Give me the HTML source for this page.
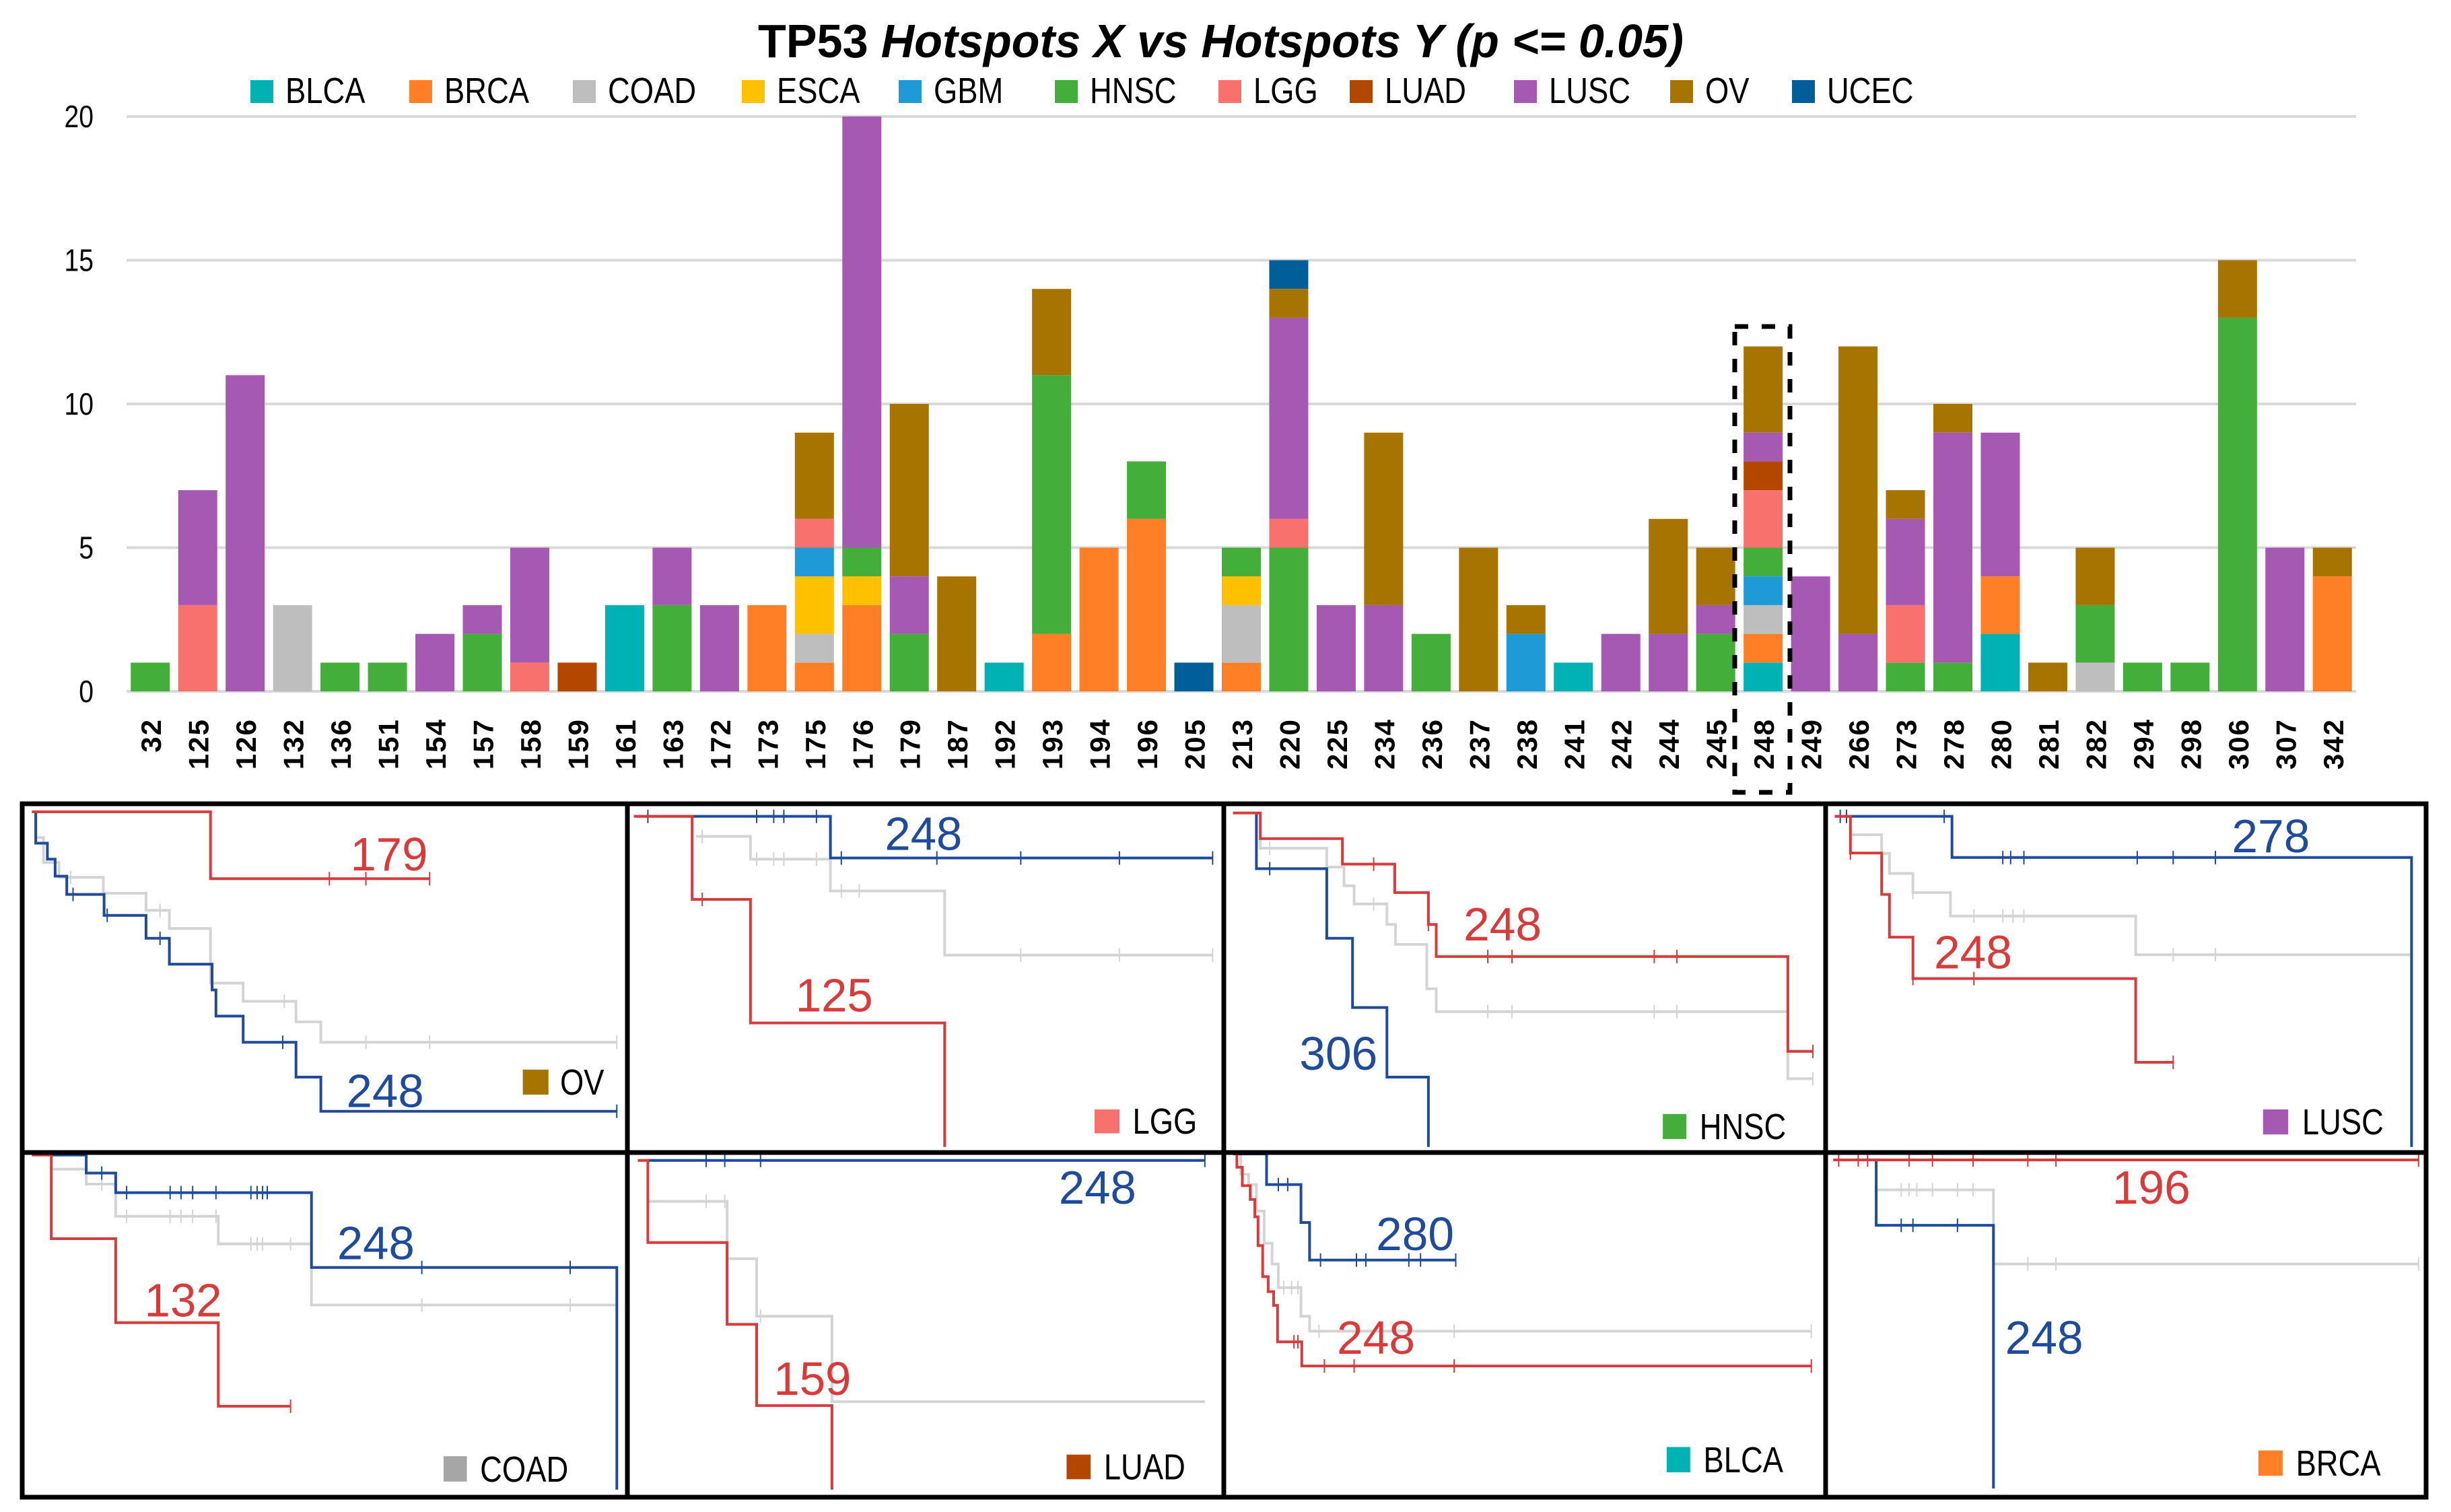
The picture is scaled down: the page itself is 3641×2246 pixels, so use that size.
<!DOCTYPE html>
<html><head><meta charset="utf-8">
<style>
html,body{margin:0;padding:0;background:#fff;}
svg{display:block;}
text{font-family:"Liberation Sans Narrow","Liberation Sans",sans-serif;}
</style></head>
<body>
<svg id="root" width="3641" height="2246" viewBox="0 0 3641 2246" xmlns="http://www.w3.org/2000/svg">
<rect x="0" y="0" width="3641" height="2246" fill="#fff"/>
<text x="1126" y="85" font-size="70" font-weight="bold" textLength="1375" lengthAdjust="spacingAndGlyphs">TP53 <tspan font-style="italic">Hotspots X vs Hotspots Y (p &lt;= 0.05)</tspan></text>
<g id="legend"></g>
<g id="grid"></g>
<g id="yaxis"></g>
<g id="bars"></g>
<g id="xaxis"></g>
<rect x="2577" y="485" width="82" height="692" fill="none" stroke="#000" stroke-width="7" stroke-dasharray="20 20"/>
<g id="km"></g>
<g id="frame" stroke="#000" stroke-width="7" fill="none">
<rect x="33" y="1194" width="3571" height="1030"/>
<line x1="33" y1="1712" x2="3604" y2="1712"/>
<line x1="932" y1="1194" x2="932" y2="2224"/>
<line x1="1818" y1="1194" x2="1818" y2="2224"/>
<line x1="2712" y1="1194" x2="2712" y2="2224"/>
</g>
</svg>
<script>
const categories=["32","125","126","132","136","151","154","157","158","159","161","163","172","173","175","176","179","187","192","193","194","196","205","213","220","225","234","236","237","238","241","242","244","245","248","249","266","273","278","280","281","282","294","298","306","307","342"];
const cancers=["BLCA","BRCA","COAD","ESCA","GBM","HNSC","LGG","LUAD","LUSC","OV","UCEC"];
const colors=["#00B2B4","#FF7F27","#BEBEBE","#FFC000","#1E9BD7","#43AE3A","#F8716C","#B34700","#A659B3","#A87400","#005F99"];
const BLCA=[0,0,0,0,0,0,0,0,0,0,3,0,0,0,0,0,0,0,1,0,0,0,0,0,0,0,0,0,0,0,1,0,0,0,1,0,0,0,0,2,0,0,0,0,0,0,0];
const BRCA=[0,0,0,0,0,0,0,0,0,0,0,0,0,3,1,3,0,0,0,2,5,6,0,1,0,0,0,0,0,0,0,0,0,0,1,0,0,0,0,2,0,0,0,0,0,0,4];
const COAD=[0,0,0,3,0,0,0,0,0,0,0,0,0,0,1,0,0,0,0,0,0,0,0,2,0,0,0,0,0,0,0,0,0,0,1,0,0,0,0,0,0,1,0,0,0,0,0];
const ESCA=[0,0,0,0,0,0,0,0,0,0,0,0,0,0,2,1,0,0,0,0,0,0,0,1,0,0,0,0,0,0,0,0,0,0,0,0,0,0,0,0,0,0,0,0,0,0,0];
const GBM=[0,0,0,0,0,0,0,0,0,0,0,0,0,0,1,0,0,0,0,0,0,0,0,0,0,0,0,0,0,2,0,0,0,0,1,0,0,0,0,0,0,0,0,0,0,0,0];
const HNSC=[1,0,0,0,1,1,0,2,0,0,0,3,0,0,0,1,2,0,0,9,0,2,0,1,5,0,0,2,0,0,0,0,0,2,1,0,0,1,1,0,0,2,1,1,13,0,0];
const LGG=[0,3,0,0,0,0,0,0,1,0,0,0,0,0,1,0,0,0,0,0,0,0,0,0,1,0,0,0,0,0,0,0,0,0,2,0,0,2,0,0,0,0,0,0,0,0,0];
const LUAD=[0,0,0,0,0,0,0,0,0,1,0,0,0,0,0,0,0,0,0,0,0,0,0,0,0,0,0,0,0,0,0,0,0,0,1,0,0,0,0,0,0,0,0,0,0,0,0];
const LUSC=[0,4,11,0,0,0,2,1,4,0,0,2,3,0,0,15,2,0,0,0,0,0,0,0,7,3,3,0,0,0,0,2,2,1,1,4,2,3,8,5,0,0,0,0,0,5,0];
const OV=[0,0,0,0,0,0,0,0,0,0,0,0,0,0,3,0,6,4,0,3,0,0,0,0,1,0,6,0,5,1,0,0,4,2,3,0,10,1,1,0,1,2,0,0,2,0,1];
const UCEC=[0,0,0,0,0,0,0,0,0,0,0,0,0,0,0,0,0,0,0,0,0,0,1,0,1,0,0,0,0,0,0,0,0,0,0,0,0,0,0,0,0,0,0,0,0,0,0];
const series=[BLCA,BRCA,COAD,ESCA,GBM,HNSC,LGG,LUAD,LUSC,OV,UCEC];
const yTicks=[0,5,10,15,20];
const legendX=[372,608,851,1102,1335,1567,1810,2005,2249,2481,2662];

const NS="http://www.w3.org/2000/svg";
function mk(tag,attrs,parent){const e=document.createElementNS(NS,tag);for(const k in attrs)e.setAttribute(k,attrs[k]);parent.appendChild(e);return e;}
function narrow(t,f){const w=t.getComputedTextLength();if(w>0){t.setAttribute('textLength',(w*f).toFixed(1));t.setAttribute('lengthAdjust','spacingAndGlyphs');}}
const X0=188,X1=3500,Y0=1027,Y20=173;
const bandW=(X1-X0)/categories.length;
const xScale=i=>X0+i*bandW;
const yScale=v=>Y0-(v/20)*(Y0-Y20);

const grid=document.getElementById('grid'),yaxis=document.getElementById('yaxis');
yTicks.forEach(t=>{
  const l=mk('line',{x1:X0,x2:X1,y1:yScale(t),y2:yScale(t),stroke:"#d9d9d9","stroke-width":4},grid);
  
  
  const tx=mk('text',{x:139,y:yScale(t)+16,"text-anchor":"end","font-size":46,fill:"#000"},yaxis);
  tx.textContent=t;
  
  
  narrow(tx,0.85);
});

const lg=document.getElementById('legend');
cancers.forEach((c,i)=>{
  const r=mk('rect',{x:legendX[i],y:119,width:34,height:34,fill:colors[i]},lg);
  
  
  const t=mk('text',{x:legendX[i]+52,y:153,"font-size":54,fill:"#000"},lg);
  t.textContent=c;
  
  
  narrow(t,0.84);
});

const bars=document.getElementById('bars'),xaxis=document.getElementById('xaxis');
const bw=58;
categories.forEach((cat,i)=>{
  let acc=0;
  const bx=xScale(i)+(bandW-bw)/2;
  series.forEach((s,k)=>{
    const v=s[i]; if(!v)return;
    const r=mk('rect',{x:bx,y:yScale(acc+v),width:bw,height:yScale(acc)-yScale(acc+v),fill:colors[k]},bars);
    
    
    acc+=v;
  });
  const cx=xScale(i)+bandW/2;
  const t=mk('text',{x:0,y:0,transform:`translate(${cx+16},1067) rotate(-90)`,"text-anchor":"end","font-size":42,"font-weight":"bold",fill:"#000","font-family":"Liberation Sans, sans-serif","letter-spacing":"2"},xaxis);
  t.textContent=cat;
  
  
});

/* KM panels: curves in panel-local sampled units, mapped with per-panel scales */
const panels=[
 {name:"OV",color:"#A87400",ox:30,sx:1.154,oy:1190,sy:0.338,
  gray:[[20,47],[20,160],[30,160],[30,270],[50,270],[50,335],[107,335],[107,405],[162,405],[162,480],[192,480],[192,560],[245,560],[245,800],[287,800],[287,880],[355,880],[355,970],[387,970],[387,1060],[768,1060]],grayT:[65,180,340,445,527,768],
  red:[[15,47],[245,47],[245,341],[527,341]],redT:[398,445,527],
  blue:[[20,47],[20,185],[35,185],[35,255],[45,255],[45,330],[60,330],[60,410],[108,410],[108,502],[162,502],[162,603],[192,603],[192,717],[247,717],[247,830],[252,830],[252,945],[287,945],[287,1060],[355,1060],[355,1213],[387,1213],[387,1363],[768,1363]],blueT:[68,112,180,338,768],
  labels:[["179","#D93A3A",425,305],["248","#1F4B9C",420,1345]],sq:[647,1180,680,1290],lt:[695,1290,"OV"]},
 {name:"LGG",color:"#F8716C",ox:30,sx:1.154,oy:1190,sy:0.338,
  gray:[[870,155],[940,155],[940,255],[1043,255],[1043,395],[1190,395],[1190,677],[1535,677]],grayT:[878,948,970,983,1025,1057,1080,1288,1415,1535],
  red:[[790,67],[865,67],[865,432],[940,432],[940,975],[1190,975],[1190,1520]],redT:[878],
  blue:[[790,67],[1043,67],[1043,250],[1535,250]],blueT:[808,948,970,983,1025,1057,1180,1288,1415,1535],
  labels:[["248","#1F4B9C",1113,215],["125","#D93A3A",998,925]],sq:[1383,1355,1415,1460],lt:[1432,1462,"LGG"]},
 {name:"HNSC",color:"#43AE3A",ox:1820,sx:1.161,oy:1190,sy:0.338,
  gray:[[45,130],[45,207],[130,207],[130,290],[152,290],[152,372],[165,372],[165,452],[207,452],[207,542],[218,542],[218,630],[258,630],[258,825],[270,825],[270,925],[720,925],[720,1220],[752,1220]],grayT:[57,190,336,367,549,578,752],
  red:[[10,52],[45,52],[45,165],[150,165],[150,277],[217,277],[217,402],[260,402],[260,542],[270,542],[270,683],[720,683],[720,1100],[752,1100]],redT:[190,260,336,367,549,578,752],
  blue:[[40,52],[40,297],[130,297],[130,603],[163,603],[163,907],[207,907],[207,1213],[260,1213],[260,1520]],blueT:[57],
  labels:[["248","#D93A3A",305,612],["306","#1F4B9C",95,1180]],sq:[560,1375,590,1485],lt:[607,1485,"HNSC"]},
 {name:"LUSC",color:"#A659B3",ox:1820,sx:1.161,oy:1190,sy:0.338,
  gray:[[800,148],[840,148],[840,230],[850,230],[850,318],[880,318],[880,402],[928,402],[928,505],[1165,505],[1165,675],[1518,675]],grayT:[880,958,995,1008,1022,1213,1267],
  red:[[780,67],[800,67],[800,228],[840,228],[840,410],[850,410],[850,598],[880,598],[880,780],[1165,780],[1165,1148],[1213,1148]],redT:[800,880,958,1213],
  blue:[[780,67],[930,67],[930,248],[1518,248],[1518,1520]],blueT:[787,795,920,995,1005,1022,1167,1213,1267],
  labels:[["278","#1F4B9C",1288,225],["248","#D93A3A",907,735]],sq:[1328,1355,1360,1465],lt:[1378,1465,"LUSC"]},
 {name:"COAD",color:"#A6A6A6",ox:30,sx:1.154,oy:1710,sy:0.342,
  gray:[[40,78],[85,78],[85,143],[123,143],[123,283],[255,283],[255,403],[375,403],[375,668],[768,668]],grayT:[105,137,193,207,222,252,297,305,312,348,517,708],
  red:[[15,17],[40,17],[40,380],[123,380],[123,745],[255,745],[255,1108],[348,1108]],redT:[348],
  blue:[[40,17],[85,17],[85,95],[123,95],[123,180],[375,180],[375,505],[768,505],[768,1470]],blueT:[105,137,193,207,222,252,297,305,312,318,517,708],
  labels:[["248","#1F4B9C",408,470],["132","#D93A3A",160,718]],sq:[545,1325,575,1435],lt:[592,1435,"COAD"]},
 {name:"LUAD",color:"#B34700",ox:30,sx:1.154,oy:1710,sy:0.342,
  gray:[[808,218],[910,218],[910,467],[948,467],[948,717],[1045,717],[1045,1088],[1525,1088]],grayT:[883,907,953],
  red:[[795,40],[808,40],[808,397],[910,397],[910,752],[948,752],[948,1105],[1045,1105],[1045,1470]],redT:[],
  blue:[[808,40],[1525,40]],blueT:[883,907,953,1525],
  labels:[["248","#1F4B9C",1337,228],["159","#D93A3A",970,1058]],sq:[1347,1318,1378,1425],lt:[1395,1425,"LUAD"]},
 {name:"BLCA",color:"#00B2B4",ox:1820,sx:1.161,oy:1710,sy:0.342,
  gray:[[10,12],[20,12],[20,100],[30,100],[30,145],[40,145],[40,260],[50,260],[50,400],[60,400],[60,490],[68,490],[68,593],[97,593],[97,717],[108,717],[108,782],[750,782]],grayT:[75,85,93,120,293,750],
  red:[[10,12],[15,12],[15,70],[22,70],[22,150],[32,150],[32,210],[38,210],[38,285],[42,285],[42,410],[48,410],[48,545],[55,545],[55,610],[62,610],[62,670],[67,670],[67,828],[98,828],[98,933],[750,933]],redT:[88,93,127,165,293,750],
  blue:[[15,12],[53,12],[53,145],[97,145],[97,310],[108,310],[108,473],[295,473]],blueT:[68,80,122,168,180,235,250,295],
  labels:[["280","#1F4B9C",193,430],["248","#D93A3A",143,880]],sq:[565,1285,595,1395],lt:[612,1395,"BLCA"]},
 {name:"BRCA",color:"#FF7F27",ox:1820,sx:1.161,oy:1710,sy:0.342,
  gray:[[833,168],[983,168],[983,490],[1527,490]],grayT:[865,875,885,905,937,957,1027,1063,1527],
  red:[[778,38],[1527,38]],redT:[785,810,822,875,905,957,1027,1063,1527],
  blue:[[830,38],[833,38],[833,322],[983,322],[983,1465]],blueT:[865,880,937],
  labels:[["196","#D93A3A",1135,228],["248","#1F4B9C",998,880]],sq:[1322,1300,1353,1410],lt:[1370,1410,"BRCA"]}
];
const km=document.getElementById('km');
function pathD(p,pts){return pts.map((q,i)=>(i?'L':'M')+(p.ox+q[0]*p.sx).toFixed(1)+' '+(p.oy+q[1]*p.sy).toFixed(1)).join(' ');}
function horizY(pts,u){let y=null;for(let i=0;i<pts.length-1;i++){const a=pts[i],b=pts[i+1];if(a[1]===b[1]&&u>=Math.min(a[0],b[0])-1&&u<=Math.max(a[0],b[0])+1)y=a[1];}return y===null?pts[pts.length-1][1]:y;}
panels.forEach(p=>{
  const g=mk('g',{},km);
  
  
  [["gray","#d4d4d4",4],["blue","#1F4B9C",4],["red","#D93A3A",4]].forEach(([k,c,w])=>{
    const pa=mk('path',{d:pathD(p,p[k]),fill:"none",stroke:c,"stroke-width":w},g);
    
    
    p[k+'T'].forEach(u=>{
      const y=p.oy+horizY(p[k],u)*p.sy, x=p.ox+u*p.sx;
      const t=mk('line',{x1:x,x2:x,y1:y-10,y2:y+10,stroke:c,"stroke-width":2},g);
      
      
    });
  });
  p.labels.forEach(([s,c,u,v])=>{
    const t=mk('text',{x:p.ox+u*p.sx,y:p.oy+v*p.sy,"font-size":70,fill:c,"font-family":"Liberation Sans, sans-serif",textLength:Math.round(100*p.sx),lengthAdjust:"spacingAndGlyphs"},g);
    t.textContent=s;
    
    
  });
  const q=p.sq;
  const r=mk('rect',{x:p.ox+q[0]*p.sx,y:p.oy+q[1]*p.sy,width:(q[2]-q[0])*p.sx,height:(q[3]-q[1])*p.sy,fill:p.color},g);
  
  
  const t=mk('text',{x:p.ox+p.lt[0]*p.sx,y:p.oy+p.lt[1]*p.sy,"font-size":54,fill:"#000"},g);
  t.textContent=p.lt[2];
  
  
  narrow(t,0.84);
});
</script>
</body></html>
